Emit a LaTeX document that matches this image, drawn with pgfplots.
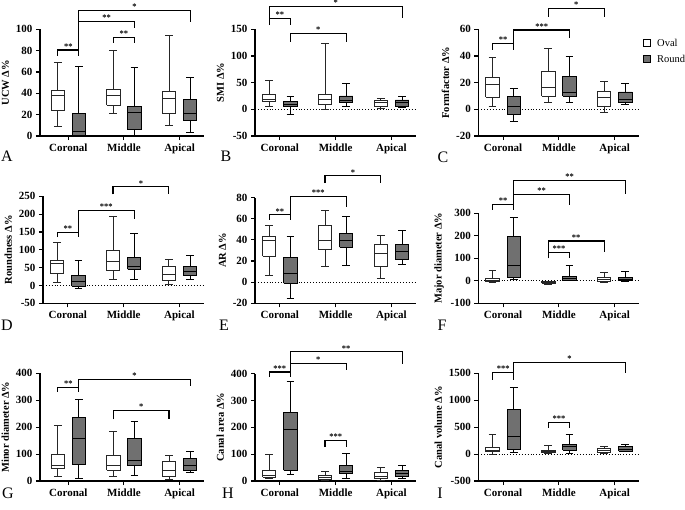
\documentclass[border=0pt]{standalone}
\usepackage{fontspec}
\setmainfont{Liberation Serif}
\usepackage{pgfplots}
\pgfplotsset{compat=1.18}

\definecolor{rfill}{RGB}{112,112,112}

\pgfplotsset{
  panel/.style={
    scale only axis, anchor=south west,
    axis x line*=bottom, axis y line*=left,
    axis line style={-, line width=1.3pt, black},
    clip=false, enlargelimits=false,
    width=161pt, xmin=-0.445, xmax=2.44,
    xtick={0,1,2}, xticklabels={Coronal,Middle,Apical},
    tick style={line width=1.1pt, black},
    major tick length=4pt, tick align=outside,
    ticklabel style={font=\bfseries\fontsize{11}{12}\selectfont},
    ylabel style={font=\bfseries\fontsize{10.5}{12}\selectfont},
  },
  wide/.style={width=164pt, xmin=-0.51, xmax=2.44},
  ob/.style={draw=black!85, fill=white, line width=0.9pt, mark=none, line join=miter},
  rb/.style={draw=black, fill=rfill, line width=0.9pt, mark=none, line join=miter},
  owhisk/.style={draw=black!85, line width=0.9pt, mark=none, unbounded coords=jump},
  rwhisk/.style={draw=black, line width=0.9pt, mark=none, unbounded coords=jump},
}

% draw position, lw, lq, med, uq, uw, o/r
\newcommand{\bx}[7]{%
  \addplot[#7b] table[x expr=\thisrow{x}+(#1), y=y, row sep=\\] {x y\\ -0.12 #3\\ 0.12 #3\\ 0.12 #5\\ -0.12 #5\\ -0.12 #3\\};
  \addplot[#7whisk] table[x expr=\thisrow{x}+(#1), y=y, row sep=\\] {x y\\ 0 #5\\ 0 #6\\ 0 nan\\ -0.07 #6\\ 0.07 #6\\ 0 nan\\ 0 #3\\ 0 #2\\ 0 nan\\ -0.07 #2\\ 0.07 #2\\ 0 nan\\ -0.12 #4\\ 0.12 #4\\};}
% x1, x2, ytop, yleft end, yright end, xmid, text
\newcommand{\brk}[7]{%
  \draw[line width=1.1pt] (axis cs:#1,#4) -- (axis cs:#1,#3) -- (axis cs:#2,#3) -- (axis cs:#2,#5);
  \node[anchor=south, inner sep=0.6pt, font=\bfseries\fontsize{8.5}{9}\selectfont] at (axis cs:#6,#3) {#7};}
\newcommand{\zl}[1]{\draw[dotted, line width=0.9pt] (axis cs:#1,0) -- (axis cs:2.44,0);}

\begin{document}
\begin{tikzpicture}[x=1pt,y=1pt]
\path[use as bounding box] (0,0) rectangle (685,-509);

% ---------- A ----------
\begin{axis}[panel, wide, at={(40pt,-136pt)}, height=106.7pt,
  ymin=0, ymax=100, ytick={0,20,40,60,80,100}, yticklabels={0,20,40,60,80,100},
  ylabel={UCW Δ\%}]
\bx{-0.19}{9}{24}{38}{43}{69}{o}
\bx{0.19}{0}{0.4}{4}{21}{65}{r}
\bx{0.81}{21}{29}{38}{44}{80}{o}
\bx{1.19}{0.5}{6}{22}{28}{64}{r}
\bx{1.81}{10}{21}{35}{42}{94}{o}
\bx{2.19}{3}{15}{21}{34}{55}{r}
\brk{-0.19}{0.19}{80.6}{75}{75}{0}{**}
\brk{0.81}{1.19}{92.5}{87.5}{87.5}{1}{**}
\brk{0.19}{1.19}{107.2}{80.6}{101}{0.69}{**}
\brk{0.19}{2.19}{118}{107.2}{107.2}{1.19}{*}
\end{axis}

% ---------- B ----------
\begin{axis}[panel, at={(255pt,-136pt)}, height=106.7pt,
  ymin=-50, ymax=150, ytick={-50,0,50,100,150}, yticklabels={-50,0,50,100,150},
  ylabel={SMI Δ\%}]
\zl{-0.445}
\bx{-0.19}{6}{14}{19}{27}{55}{o}
\bx{0.19}{-10.5}{5}{10}{14}{24}{r}
\bx{0.81}{-1}{9}{18}{28}{123}{o}
\bx{1.19}{5}{12.5}{17}{25}{49}{r}
\bx{1.81}{1}{6}{12}{16}{21}{o}
\bx{2.19}{4}{6}{13}{17.5}{25}{r}
\brk{-0.19}{0.19}{170.6}{158}{158}{0}{**}
\brk{-0.19}{2.19}{192.5}{170.6}{171}{1}{*}
\brk{0.19}{1.19}{142.5}{127}{127}{0.69}{*}
\end{axis}

% ---------- C ----------
\begin{axis}[panel, at={(478.3pt,-136pt)}, height=106.7pt,
  ymin=-20, ymax=60, ytick={-20,0,20,40,60}, yticklabels={-20,0,20,40,60},
  ylabel={Formfactor Δ\%}]
\zl{-0.445}
\bx{-0.19}{2.5}{9}{19}{24}{39}{o}
\bx{0.19}{-9.25}{-3.75}{2.5}{9.5}{15.75}{r}
\bx{0.81}{5}{10}{16.25}{28.75}{46}{o}
\bx{1.19}{5}{10}{12.5}{24.5}{40}{r}
\bx{1.81}{-2.25}{2.5}{8.75}{13.75}{21}{o}
\bx{2.19}{3.75}{5}{7.5}{13}{19.5}{r}
\brk{-0.19}{0.19}{49.5}{44.5}{44.5}{0}{**}
\brk{0.19}{1.19}{59.5}{49.5}{53.25}{0.69}{***}
\brk{0.81}{1.81}{75.75}{69.5}{69.5}{1.31}{*}
\end{axis}

% ---------- D ----------
\begin{axis}[panel, at={(43pt,-303.3pt)}, height=107pt,
  ymin=-50, ymax=250, ytick={-50,0,50,100,150,200,250}, yticklabels={-50,0,50,100,150,200,250},
  ylabel={Roundness Δ\%}]
\zl{-0.445}
\bx{-0.19}{7.5}{33}{62}{71}{121.5}{o}
\bx{0.19}{-8}{-2}{12}{29}{70}{r}
\bx{0.81}{17}{43}{66}{98}{192.5}{o}
\bx{1.19}{17}{45}{52}{79}{147}{r}
\bx{1.81}{2}{13}{32}{54}{72}{o}
\bx{2.19}{18}{28}{40}{52}{84}{r}
\brk{-0.19}{0.19}{149.5}{135.5}{135.5}{0}{**}
\brk{0.19}{1.19}{211}{149.5}{185}{0.69}{***}
\brk{0.81}{1.81}{276.5}{255.6}{255.6}{1.31}{*}
\end{axis}

% ---------- E ----------
\begin{axis}[panel, at={(255pt,-303.3pt)}, height=105.7pt,
  ymin=-20, ymax=80, ytick={-20,0,20,40,60,80}, yticklabels={-20,0,20,40,60,80},
  ylabel={AR Δ\%}]
\zl{-0.445}
\bx{-0.19}{6.8}{24.8}{39.6}{43.7}{54}{o}
\bx{0.19}{-15.3}{-1}{8.4}{23}{43}{r}
\bx{0.81}{14.7}{31}{39}{54}{68}{o}
\bx{1.19}{15.6}{33}{39}{46}{62.6}{r}
\bx{1.81}{3.7}{14.7}{26.7}{36}{44}{o}
\bx{2.19}{17}{21.6}{29.5}{35.8}{48.8}{r}
\brk{-0.19}{0.19}{63.6}{58.9}{58.9}{0}{**}
\brk{0.19}{1.19}{81}{63.6}{71.5}{0.69}{***}
\brk{0.81}{1.81}{100.5}{93.6}{93.6}{1.31}{*}
\end{axis}

% ---------- F ----------
\begin{axis}[panel, at={(478.3pt,-303.3pt)}, height=90pt,
  ymin=-100, ymax=300, ytick={-100,0,100,200,300}, yticklabels={-100,0,100,200,300},
  ylabel={Major diameter Δ\%}]
\zl{-0.445}
\bx{-0.19}{-8}{-5}{2}{12}{48}{o}
\bx{0.19}{7}{15}{70}{196}{282}{r}
\bx{0.81}{-15}{-10}{-7}{-4}{-2}{o}
\bx{1.19}{0}{3}{11}{21}{67}{r}
\bx{1.81}{-8}{-3}{4}{13}{36}{o}
\bx{2.19}{-5}{2}{8}{14}{41}{r}
\brk{-0.19}{0.19}{340}{315}{315}{0}{**}
\brk{0.19}{1.19}{384}{340}{337}{0.69}{**}
\brk{0.19}{2.19}{445}{384}{388}{1.19}{**}
\brk{0.81}{1.19}{127}{100}{100}{1}{***}
\brk{0.81}{1.81}{177}{127}{130}{1.31}{**}
\end{axis}

% ---------- G ----------
\begin{axis}[panel, wide, at={(40pt,-481pt)}, height=107.7pt,
  ymin=0, ymax=400, ytick={0,100,200,300,400}, yticklabels={0,100,200,300,400},
  ylabel={Minor diameter Δ\%}]
\bx{-0.19}{18.6}{47}{58}{99}{205.6}{o}
\bx{0.19}{10}{63}{157}{236.5}{304.6}{r}
\bx{0.81}{16}{40}{58}{95}{183}{o}
\bx{1.19}{22}{56}{78}{157}{220}{r}
\bx{1.81}{6}{16}{41}{72}{96.6}{o}
\bx{2.19}{31}{41}{59}{82}{111}{r}
\brk{-0.19}{0.19}{348}{332}{332}{0}{**}
\brk{0.19}{2.19}{377.7}{348}{353}{1.19}{*}
\brk{0.81}{1.81}{261}{229}{229}{1.31}{*}
\end{axis}

% ---------- H ----------
\begin{axis}[panel, at={(255pt,-481pt)}, height=107.4pt,
  ymin=0, ymax=400, ytick={0,100,200,300,400}, yticklabels={0,100,200,300,400},
  ylabel={Canal area Δ\%}]
\bx{-0.19}{9}{15}{21}{38}{99}{o}
\bx{0.19}{24}{40}{192}{257}{369}{r}
\bx{0.81}{1}{5}{12}{19}{36}{o}
\bx{1.19}{9}{27}{36}{58}{102}{r}
\bx{1.81}{3}{10}{18}{32}{50}{o}
\bx{2.19}{9}{18}{28}{38}{57}{r}
\brk{-0.19}{0.19}{406}{387}{387}{0}{***}
\brk{0.19}{1.19}{437}{406}{412}{0.69}{*}
\brk{0.19}{2.19}{481}{437}{437}{1.19}{**}
\brk{0.81}{1.19}{152}{126}{126}{1}{***}
\end{axis}

% ---------- I ----------
\begin{axis}[panel, at={(478.3pt,-481pt)}, height=107.7pt,
  ymin=-500, ymax=1500, ytick={-500,0,500,1000,1500}, yticklabels={-500,0,500,1000,1500},
  ylabel={Canal volume Δ\%}]
\zl{-0.445}
\bx{-0.19}{-10}{40}{75}{115}{360}{o}
\bx{0.19}{30}{90}{320}{820}{1240}{r}
\bx{0.81}{10}{25}{45}{70}{160}{o}
\bx{1.19}{20}{75}{135}{180}{360}{r}
\bx{1.81}{10}{30}{60}{105}{150}{o}
\bx{2.19}{40}{55}{95}{135}{170}{r}
\brk{-0.19}{0.19}{1512}{1377}{1377}{0}{***}
\brk{0.19}{2.19}{1698}{1512}{1512}{1.19}{*}
\brk{0.81}{1.19}{583}{491}{491}{1}{***}
\end{axis}

% panel letters
\begin{scope}[every node/.style={font=\fontsize{16}{16}\selectfont, inner sep=0pt}]
\node at (7,-156) {A};   \node at (226,-156) {B};  \node at (443,-157) {C};
\node at (7,-325) {D};   \node at (224,-325) {E};  \node at (442,-325) {F};
\node at (8,-493) {G};   \node at (228,-493) {H};  \node at (440,-493) {I};
\end{scope}

% legend
\draw[line width=0.8pt, fill=white] (643,-39.5) rectangle (650,-46.5);
\draw[line width=0.8pt, fill=rfill] (643,-55) rectangle (650,-62);
\node[anchor=west, font=\fontsize{10.5}{12}\selectfont, inner sep=0pt] at (657,-43) {Oval};
\node[anchor=west, font=\fontsize{10.5}{12}\selectfont, inner sep=0pt] at (657,-58.5) {Round};
\end{tikzpicture}
\end{document}
